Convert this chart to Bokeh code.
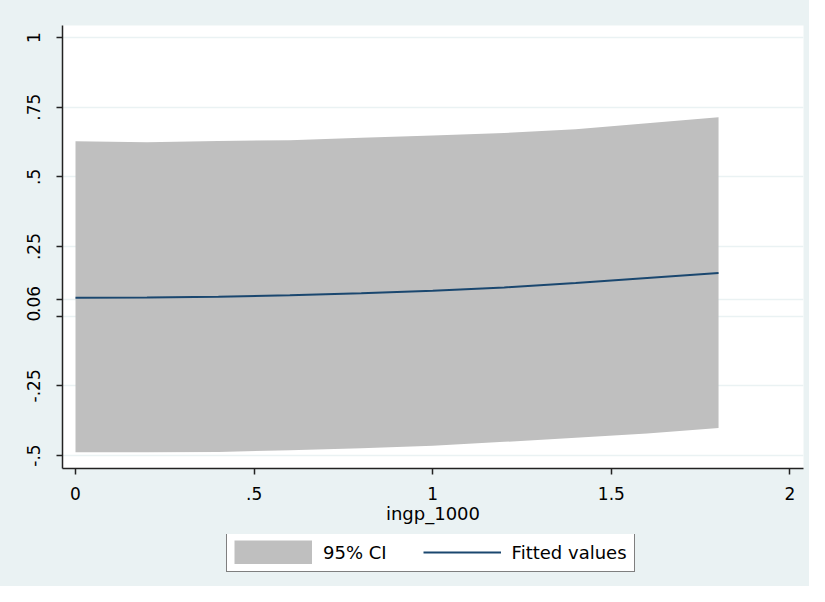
from bokeh.plotting import figure
from bokeh.layouts import column
from bokeh.models import (Range1d, FixedTicker, Legend, LegendItem, ColumnDataSource)
from bokeh.embed import file_html
from bokeh.resources import INLINE

# ---- data ----
x_vals = [0.0, 0.2, 0.4, 0.6, 0.8, 1.0, 1.2, 1.4, 1.6, 1.8]
fitted = [0.066, 0.067, 0.070, 0.075, 0.082, 0.091, 0.103, 0.119, 0.137, 0.155]
ci_upper = [0.628, 0.624, 0.629, 0.631, 0.640, 0.648, 0.657, 0.671, 0.692, 0.714]
ci_lower = [-0.488, -0.488, -0.487, -0.481, -0.474, -0.465, -0.451, -0.436, -0.421, -0.401]

x_ticks = [0, 0.5, 1, 1.5, 2]
x_tick_labels = ["0", ".5", "1", "1.5", "2"]
y_ticks = [-0.5, -0.25, 0, 0.06, 0.25, 0.5, 0.75, 1]
y_tick_labels = ["-.5", "-.25", "0", ".06", ".25", ".5", ".75", "1"]

x_title = "ingp_1000"
legend_labels = ["95% CI", "Fitted values"]

# ---- styling ----
BG = "#EAF2F3"
FONT = "DejaVu Sans"
BAND = "#BFBFBF"
NAVY = "#1A476F"

src = ColumnDataSource(dict(x=x_vals, fit=fitted, lo=ci_lower, hi=ci_upper))

p = figure(width=809, height=534,
           x_range=Range1d(-0.0364, 2.0378), y_range=Range1d(-0.5466, 1.043),
           output_backend="svg", toolbar_location=None,
           min_border_left=62, min_border_top=25, min_border_right=6,
           min_border_bottom=66)

p.background_fill_color = "white"
p.border_fill_color = BG
p.outline_line_color = None

band = p.varea(x="x", y1="lo", y2="hi", source=src, fill_color=BAND,
               fill_alpha=1.0)
line = p.line(x="x", y="fit", source=src, line_color=NAVY, line_width=2)

# axes
for ax in (p.xaxis[0], p.yaxis[0]):
    ax.axis_line_color = "#222222"
    ax.axis_line_width = 1.5
    ax.major_tick_line_color = "#222222"
    ax.major_tick_line_width = 1.5
    ax.major_tick_out = 6
    ax.major_tick_in = 0
    ax.minor_tick_line_color = None
    ax.major_label_text_font = FONT
    ax.major_label_text_font_size = "17px"
    ax.major_label_text_color = "black"

p.xaxis.ticker = FixedTicker(ticks=x_ticks)
p.xaxis.major_label_overrides = {t: l for t, l in zip(x_ticks, x_tick_labels)}
p.xaxis.major_label_standoff = 12
p.xaxis.axis_label = x_title
p.xaxis.axis_label_text_font = FONT
p.xaxis.axis_label_text_font_size = "18px"
p.xaxis.axis_label_text_font_style = "normal"
p.xaxis.axis_label_text_color = "black"
p.xaxis.axis_label_standoff = 0

p.yaxis.ticker = FixedTicker(ticks=y_ticks)
p.yaxis.major_label_overrides = {t: l for t, l in zip(y_ticks, y_tick_labels)}
p.yaxis.major_label_orientation = "vertical"
p.yaxis.major_label_standoff = 16

p.xgrid.grid_line_color = None
p.ygrid.ticker = FixedTicker(ticks=y_ticks)
p.ygrid.grid_line_color = BG
p.ygrid.grid_line_width = 1.5

# ---- legend strip below the plot ----
lg = figure(width=809, height=52, x_range=Range1d(10, 11), y_range=Range1d(10, 11),
            output_backend="svg", toolbar_location=None, min_border=0,
            x_axis_type=None, y_axis_type=None)
lg.background_fill_color = BG
lg.border_fill_color = BG
lg.outline_line_color = None
lg.grid.visible = False
# legend proxies (outside the visible range of this strip)
band2 = lg.line(x="x", y="hi", source=src, line_color=BAND, line_width=24,
                line_cap="butt")
line2 = lg.line(x="x", y="fit", source=src, line_color=NAVY, line_width=2)

legend = Legend(items=[LegendItem(label=legend_labels[0], renderers=[band2]),
                       LegendItem(label=legend_labels[1], renderers=[line2])],
                orientation="horizontal", location=(164, 14))
legend.label_text_font = FONT
legend.label_text_font_size = "18px"
legend.label_text_color = "black"
legend.glyph_width = 78
legend.glyph_height = 24
legend.label_height = 24
legend.label_standoff = 11
legend.spacing = 36
legend.padding = 7
legend.margin = 0
legend.border_line_color = "black"
legend.border_line_width = 1
legend.background_fill_color = "white"
legend.background_fill_alpha = 1.0
lg.add_layout(legend, "center")

layout = column(p, lg, spacing=0, styles={"background-color": BG})
open("out.html", "w").write(file_html(layout, INLINE))
